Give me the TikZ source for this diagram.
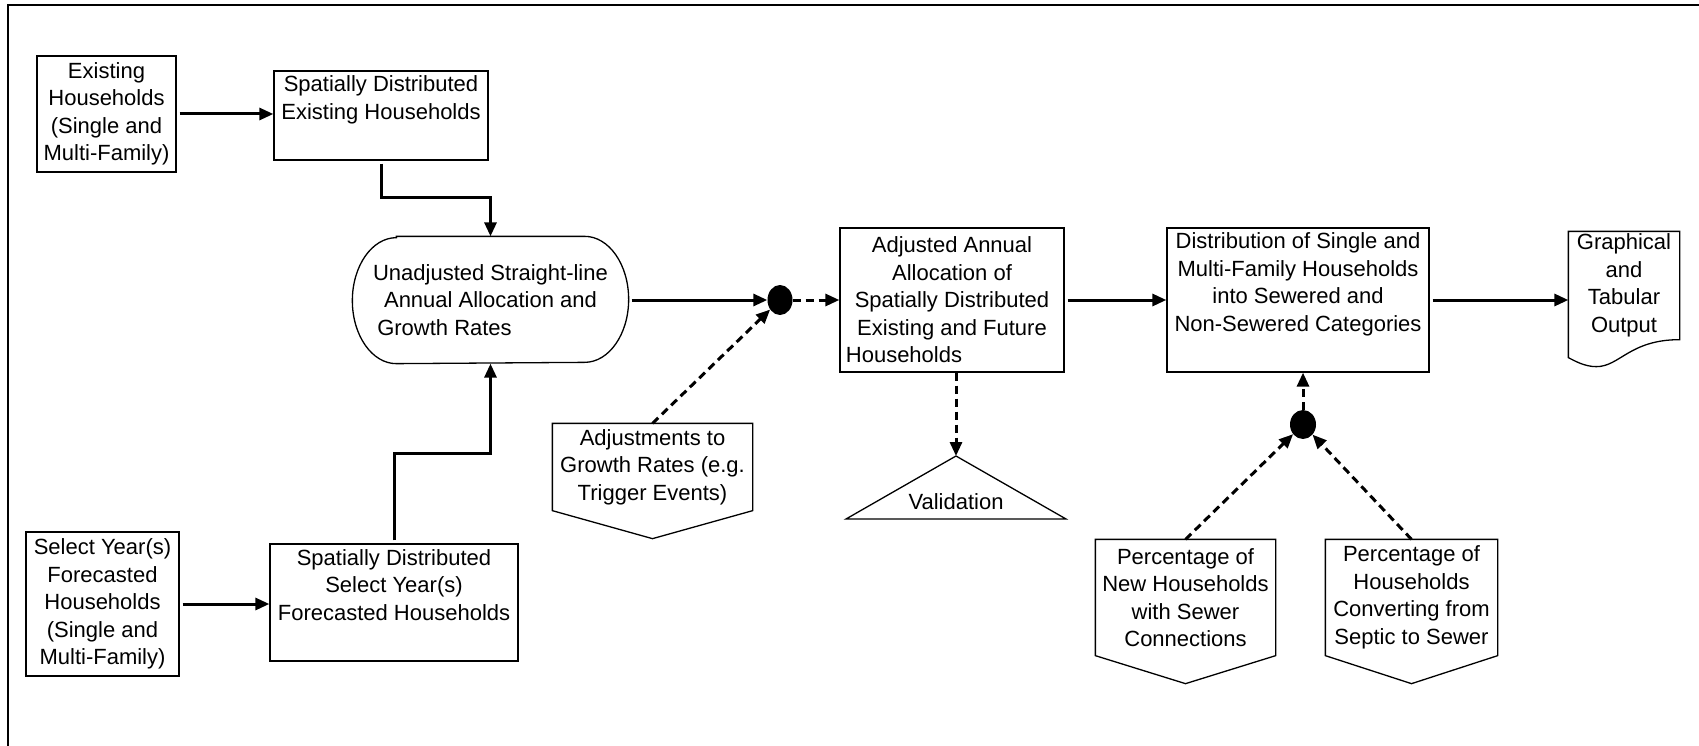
\documentclass[tikz,border=0pt]{standalone}
\usepackage{fontspec}
\setmainfont{Liberation Sans}
\usetikzlibrary{arrows.meta,positioning,calc,shapes.geometric}
\tikzset{
  box/.style={draw,line width=1.3pt,align=center,inner sep=0pt,font=\fontsize{22}{27.5}\selectfont},
  bare/.style={box,draw=none},
  blob/.style={ellipse,fill=black,inner sep=0pt,minimum width=25pt,minimum height=30pt},
  outline/.style={line width=1.3pt},
  arr/.style={-{Triangle[length=14pt,width=12pt]},line width=3pt,shorten <=3pt},
  darr/.style={-{Triangle[length=14pt,width=12pt]},line width=3pt,dash pattern=on 8pt off 5pt}
}
\begin{document}
\begin{tikzpicture}[x=1pt,y=-1pt]
  \useasboundingbox (0,0) rectangle (1699,746);
  \draw[line width=2pt] (8,746) -- (8,5) -- (1699,5);
  % inputs on the left
  \node[box,minimum width=139,minimum height=116] (exist) at (106.5,114) {Existing\\Households\\(Single and\\Multi-Family)};
  \node[box,minimum width=214,minimum height=89] (spexist) at (381,115.5) {Spatially Distributed\\Existing Households\\\strut};
  \node[box,minimum width=153,minimum height=144] (select) at (102.5,604) {Select Year(s)\\Forecasted\\Households\\(Single and\\Multi-Family)};
  \node[box,minimum width=248,minimum height=117] (spselect) at (394,602.5) {Spatially Distributed\\Select Year(s)\\Forecasted Households\\\strut};
  \node[bare,minimum width=275,minimum height=126] (unadj) at (490.5,300) {Unadjusted Straight-line\\Annual Allocation and\\Growth Rates\hspace*{92pt}};
  % middle
  \node[blob] (join1) at (780,300) {};
  \node[bare,minimum width=199,minimum height=86] (adjust) at (652.5,467) {Adjustments to\\Growth Rates (e.g.\\Trigger Events)};
  \node[box,minimum width=224,minimum height=144] (adjalloc) at (952,300) {Adjusted Annual\\Allocation of\\Spatially Distributed\\Existing and Future\\Households\hspace*{96pt}};
  \node[bare] (valid) at (956,502) {Validation};
  \coordinate (validtop) at ($(valid)+(0,-46)$);
  % right
  \node[box,minimum width=262,minimum height=144] (sewer) at (1298,300) {Distribution of Single and\\Multi-Family Households\\into Sewered and\\Non-Sewered Categories\\\strut};
  \node[bare,minimum width=110,minimum height=107] (output) at (1624,285.5) {Graphical\\and\\Tabular\\Output};
  \node[blob,minimum width=26,minimum height=29] (join2) at (1303,424.5) {};
  \node[bare,minimum width=179,minimum height=115] (newpct) at (1185.5,597.5) {Percentage of\\New Households\\with Sewer\\Connections};
  \node[bare,minimum width=171,minimum height=115] (convpct) at (1411.5,597.5) {Percentage of\\Households\\Converting from\\Septic to Sewer};
  % outlines of the terminator, off-page, triangle and document shapes
  \draw[outline] ($(unadj.north west)+(44,0)$) -- ($(unadj.north east)+(-44,0)$)
    arc[start angle=90,end angle=-90,x radius=44pt,y radius=63pt]
    -- ($(unadj.south west)+(44,0)$)
    arc[start angle=270,end angle=90,x radius=44pt,y radius=63pt] -- cycle;
  \foreach \n in {adjust,newpct,convpct}
    \draw[outline] (\n.north west) -- (\n.north east) -- (\n.south east) -- ($(\n.south)+(0,28)$) -- (\n.south west) -- cycle;
  \draw[outline] ($(valid)+(-110,17)$) -- (validtop) -- ($(valid)+(110,17)$) -- cycle;
  \draw[outline] (output.north west) -- (output.north east) -- (output.south east)
    .. controls ($(output.south east)+(-50,0)$) and ($(output.south east)+(-60,27)$) .. ($(output.south west)+(28,27)$)
    .. controls ($(output.south west)+(16,27)$) and ($(output.south west)+(6,21)$) .. ($(output.south west)+(0,18)$) -- cycle;
  % connectors
  \draw[arr] (exist.east) -- (exist.east -| spexist.west);
  \draw[arr] (spexist.south) -- ++(0,37) -| (unadj.north);
  \draw[arr] (select.east) -- (select.east -| spselect.west);
  \draw[arr] (spselect.north) -- ++(0,-90) -| (unadj.south);
  \draw[arr] (unadj.east) -- (join1);
  \draw[darr] (adjust.north) -- (join1);
  \draw[darr] (join1) -- (join1 -| adjalloc.west);
  \draw[arr] (adjalloc) -- (sewer);
  \draw[arr] (sewer.east) -- (sewer.east -| output.west);
  \draw[darr] (validtop |- adjalloc.south) -- (validtop);
  \draw[darr] (newpct.north) -- (join2);
  \draw[darr] (convpct.north) -- (join2);
  \draw[darr] (join2) -- (join2 |- sewer.south);
\end{tikzpicture}
\end{document}
